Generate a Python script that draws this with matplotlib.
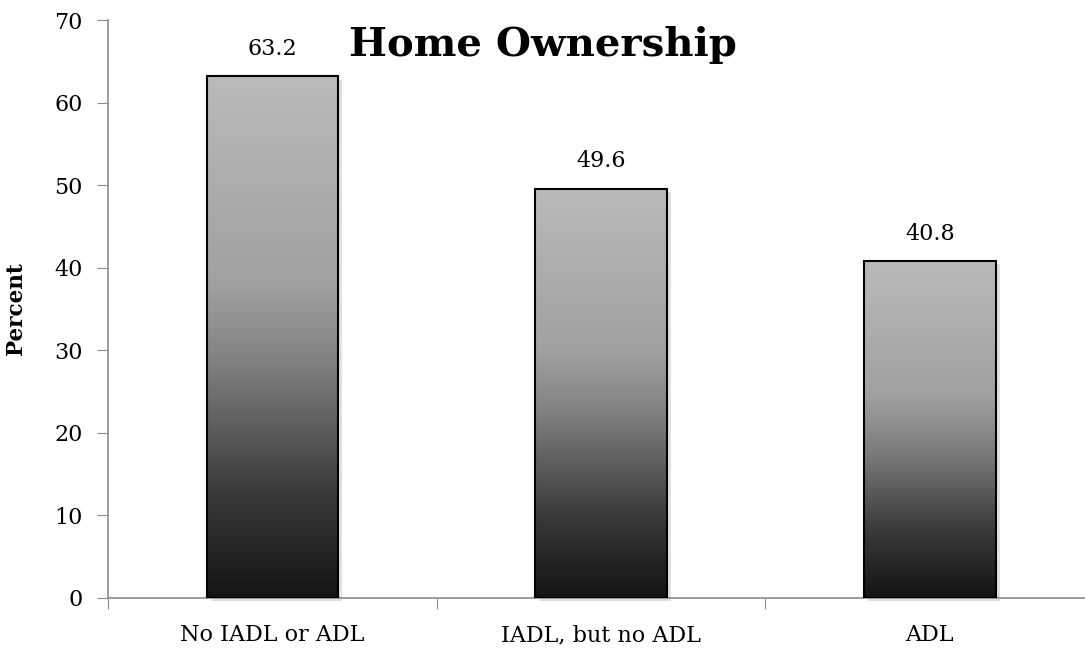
import numpy as np
import matplotlib.pyplot as plt
from matplotlib.colors import LinearSegmentedColormap
from matplotlib.patches import Rectangle

categories = ["No IADL or ADL", "IADL, but no ADL", "ADL"]
values = [63.2, 49.6, 40.8]

plt.rcParams['font.family'] = ['DejaVu Serif']

fig = plt.figure(figsize=(10.85, 6.5), dpi=100)
ax = fig.add_axes([0.0995, 0.08, 0.909, 0.889])

# gray ramp: dark at the base, light at the top
cmap = LinearSegmentedColormap.from_list(
    'bar_ramp',
    [(0.0, '#141414'), (0.2, '#3a3a3a'), (0.45, '#808080'),
     (0.6, '#a0a0a0'), (1.0, '#bababa')])
grad = np.linspace(0, 1, 256).reshape(-1, 1)
width = 0.4

for i, v in enumerate(values):
    x0 = i - width / 2
    # soft drop shadow
    ax.add_patch(Rectangle((x0 + 0.012, -0.4), width, v, facecolor='#000000',
                           alpha=0.12, edgecolor='none', zorder=1, clip_on=False))
    img = ax.imshow(grad, cmap=cmap, origin='lower', aspect='auto',
                    extent=[x0, x0 + width, 0, v], zorder=2)
    rect = Rectangle((x0, 0), width, v, facecolor='none', edgecolor='black',
                     linewidth=1.5, zorder=3)
    ax.add_patch(rect)
    img.set_clip_path(rect)
    ax.text(i, v + 2.0, f"{v}", ha='center', va='bottom', fontsize=16)

ax.set_xlim(-0.5, 2.5)
ax.set_ylim(0, 70)
ax.set_yticks(range(0, 71, 10))
ax.set_xticks([-0.5, 0.5, 1.5, 2.5])
ax.set_xticklabels([])
ax.set_xticks(range(3), minor=True)
ax.set_xticklabels(categories, minor=True, fontsize=16)
ax.tick_params(axis='x', which='minor', length=0, pad=19)
ax.tick_params(axis='x', which='major', direction='out', length=8, color='#8c8c8c')
ax.tick_params(axis='y', direction='out', length=8, color='#8c8c8c',
               labelsize=16, pad=10)

for s in ['top', 'right']:
    ax.spines[s].set_visible(False)
for s in ['left', 'bottom']:
    ax.spines[s].set_color('#8c8c8c')
    ax.spines[s].set_linewidth(1.2)

ax.set_ylabel("Percent", fontsize=15.5, fontweight='bold', labelpad=20)
ax.text(0.5, 1 - 45 / 650, "Home Ownership", transform=fig.transFigure,
        ha='center', va='center', fontsize=29, fontweight='bold')

fig.savefig('out.png', dpi=100)
